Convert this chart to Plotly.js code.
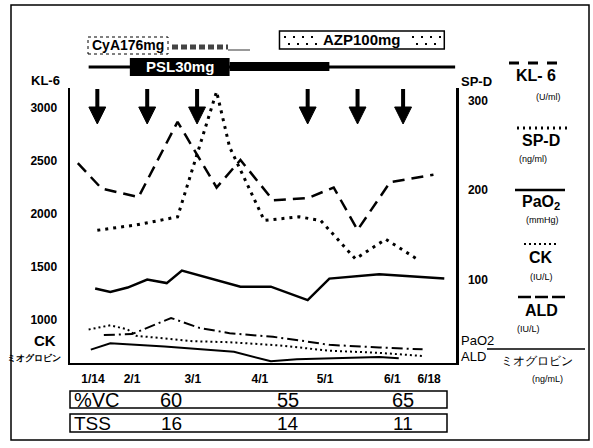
<!DOCTYPE html>
<html><head><meta charset="utf-8">
<script src="https://cdn.plot.ly/plotly-3.0.1.min.js"></script>
<style>html,body{margin:0;padding:0;background:#fff}#chart{width:593px;height:448px}</style>
</head><body><div id="chart"></div>
<script>
// ---- data (x = day of year) ----
const tickDays = [14, 32, 60, 91, 121, 152, 169];
const tickLabels = ['1/14', '2/1', '3/1', '4/1', '5/1', '6/1', '6/18'];

const kl6Days = [7, 18, 35, 53, 71, 82, 97, 113, 125, 136, 151, 171];
const kl6 = [2480, 2240, 2160, 2870, 2250, 2510, 2130, 2150, 2250, 1850, 2300, 2370];

const spdDays = [16, 34, 53, 71, 77, 93, 109, 119, 135, 149, 164];
const spd = [155, 161, 170, 310, 248, 166, 170, 166, 123, 145, 122];

const pao2Days = [15, 22, 30, 39, 48, 55, 82, 96, 113, 123, 146, 176];
const pao2 = [90, 86, 91, 100, 96, 110, 92, 92, 77, 101, 106, 101];

const ckDays = [12, 22, 30, 34, 45, 60, 77, 100, 123, 146, 166];
const ck = [910, 950, 910, 850, 830, 800, 790, 760, 710, 690, 660];

const aldDays = [19, 32, 50, 63, 77, 97, 109, 123, 146, 166];
const ald = [38, 39, 57, 46, 40, 36, 32, 27, 24, 22];

const myoDays = [13, 22, 47, 79, 96, 108, 146, 155];
const myo = [720, 780, 750, 700, 610, 630, 650, 640];

const arrowDays = [16, 39, 62, 113, 136, 157];

const vcDays = [50, 104, 157];
const vcValues = [60, 55, 65];
const tssValues = [16, 14, 11];

const cyaLabel = 'CyA176mg';
const pslLabel = 'PSL30mg';
const azpLabel = 'AZP100mg';
const pslStart = 12, pslHighEnd = 77, pslEnd = 181;
const azpStart = 100, azpEnd = 176;

// ---- layout helpers (pixel -> paper) ----
const L = 70, R = 456, T = 88, B = 363;
const px = x => (x - L) / (R - L);
const py = y => (B - y) / (B - T);
const FONT = 'Liberation Sans, Arial, sans-serif';
const BLK = '#000';

const traces = [
  {x: kl6Days, y: kl6, yaxis: 'y', mode: 'lines', line: {color: BLK, width: 2.5, dash: '12px,7px'}},
  {x: spdDays, y: spd, yaxis: 'y2', mode: 'lines', line: {color: BLK, width: 3, dash: '3px,5px'}},
  {x: pao2Days, y: pao2, yaxis: 'y2', mode: 'lines', line: {color: BLK, width: 2.5}},
  {x: ckDays, y: ck, yaxis: 'y', mode: 'lines', line: {color: BLK, width: 2, dash: '2px,3px'}},
  {x: aldDays, y: ald, yaxis: 'y2', mode: 'lines', line: {color: BLK, width: 2, dash: '11px,4px,2px,4px'}},
  {x: myoDays, y: myo, yaxis: 'y', mode: 'lines', line: {color: BLK, width: 2}}
];

const shapes = [];
const annotations = [];

// outer frame
shapes.push({type: 'rect', xref: 'paper', yref: 'paper', x0: px(11), x1: px(589), y0: py(440), y1: py(5), line: {color: BLK, width: 1.5}});
// table boxes
shapes.push({type: 'rect', xref: 'paper', yref: 'paper', x0: px(70), x1: px(447), y0: py(408), y1: py(391), line: {color: BLK, width: 1.5}});
shapes.push({type: 'rect', xref: 'paper', yref: 'paper', x0: px(70), x1: px(447), y0: py(432), y1: py(414), line: {color: BLK, width: 1.5}});

// drug bars
shapes.push({type: 'line', xref: 'x', yref: 'paper', x0: pslStart, x1: pslEnd, y0: py(67), y1: py(67), line: {color: BLK, width: 3}});
shapes.push({type: 'rect', xref: 'x', yref: 'paper', x0: 31, x1: pslHighEnd, y0: py(76), y1: py(58), fillcolor: BLK, line: {width: 0}});
shapes.push({type: 'rect', xref: 'x', yref: 'paper', x0: pslHighEnd, x1: 123, y0: py(71), y1: py(62), fillcolor: BLK, line: {width: 0}});
shapes.push({type: 'rect', xref: 'x', yref: 'paper', x0: azpStart, x1: azpEnd, y0: py(49), y1: py(31), line: {color: BLK, width: 1.5}});
shapes.push({type: 'line', xref: 'paper', yref: 'paper', x0: px(284), x1: px(318), y0: py(37), y1: py(37), line: {color: BLK, width: 2, dash: '2px,7px'}});
shapes.push({type: 'line', xref: 'paper', yref: 'paper', x0: px(288), x1: px(318), y0: py(44), y1: py(44), line: {color: BLK, width: 2, dash: '2px,7px'}});
shapes.push({type: 'line', xref: 'paper', yref: 'paper', x0: px(412), x1: px(442), y0: py(37), y1: py(37), line: {color: BLK, width: 2, dash: '2px,7px'}});
shapes.push({type: 'line', xref: 'paper', yref: 'paper', x0: px(416), x1: px(442), y0: py(44), y1: py(44), line: {color: BLK, width: 2, dash: '2px,7px'}});
shapes.push({type: 'rect', xref: 'paper', yref: 'paper', x0: px(88), x1: px(168), y0: py(54), y1: py(37), line: {color: BLK, width: 1, dash: 'dot'}});
shapes.push({type: 'line', xref: 'paper', yref: 'paper', x0: px(172), x1: px(228), y0: py(47), y1: py(47), line: {color: '#444', width: 5, dash: '6px,3px'}});
shapes.push({type: 'line', xref: 'paper', yref: 'paper', x0: px(228), x1: px(250), y0: py(50), y1: py(50), line: {color: '#777', width: 1.5}});

// treatment arrows (shaft + head, placed on the x axis scale)
arrowDays.forEach(d => {
  shapes.push({type: 'line', xref: 'x', yref: 'paper', x0: d, x1: d, y0: py(89), y1: py(110), line: {color: BLK, width: 4}});
  shapes.push({type: 'path', xref: 'x', yref: 'paper', path: `M ${d - 3.9} ${py(107)} L ${d + 3.9} ${py(107)} L ${d} ${py(124)} Z`, fillcolor: BLK, line: {color: BLK, width: 1}});
});

const lab = (x, y, t, size, anchor, bold, color) => annotations.push({xref: 'paper', yref: 'paper', x: px(x), y: py(y), text: t, showarrow: false, xanchor: anchor || 'center', yanchor: 'middle', font: {family: FONT, size: size, color: color || BLK, weight: bold ? 'bold' : 'normal'}});

lab(128, 45, cyaLabel, 14, 'center', true);
annotations.push({xref: 'x', yref: 'paper', x: (31 + pslHighEnd) / 2, y: py(67), xanchor: 'center', yanchor: 'middle', text: pslLabel, showarrow: false, font: {family: FONT, size: 15, color: '#fff', weight: 'bold'}});
annotations.push({xref: 'x', yref: 'paper', x: (azpStart + azpEnd) / 2, y: py(40), xanchor: 'center', yanchor: 'middle', text: azpLabel, showarrow: false, font: {family: FONT, size: 15, color: BLK, weight: 'bold'}});

// axis side labels
lab(62, 80, 'KL-6', 13, 'right', true);
lab(459, 81, 'SP-D', 13, 'left', true);
lab(58, 340, 'CK', 15, 'right', true);
lab(63, 358, 'ミオグロビン', 9, 'right', true);
lab(459, 340, 'PaO2', 13, 'left', false);
lab(459, 356, 'ALD', 13, 'left', false);

// legend
const lline = (x0, x1, y, dash, w) => shapes.push({type: 'line', xref: 'paper', yref: 'paper', x0: px(x0), x1: px(x1), y0: py(y), y1: py(y), line: {color: BLK, width: w, dash: dash}});
lline(509, 558, 63, '10px,9px', 3);
lline(517, 567, 128, '2px,4px', 3);
lline(515, 565, 190, 'solid', 2.5);
lline(524, 557, 244, '2px,3px', 2);
lline(518, 567, 297, '13px,4px', 2.5);
lline(487, 585, 349, 'solid', 1.5);
lab(536, 76, 'KL- 6', 16, 'center', true);
lab(548, 97, '(U/ml)', 9, 'center', false);
lab(541, 140, 'SP-D', 16, 'center', true);
lab(533, 159, '(ng/ml)', 9, 'center', false);
lab(541, 202, 'PaO<sub>2</sub>', 16, 'center', true);
lab(542, 220, '(mmHg)', 9, 'center', false);
lab(541, 257, 'CK', 16, 'center', true);
lab(541, 277, '(IU/L)', 9, 'center', false);
lab(541, 310, 'ALD', 16, 'center', true);
lab(528, 329, '(IU/L)', 9, 'center', false);
lab(537, 361, 'ミオグロビン', 12, 'center', false);
lab(547, 379, '(ng/mL)', 9, 'center', false);

// table text
lab(72, 400, '%VC', 20, 'left', false);
lab(72, 423, 'TSS', 19, 'left', false);
vcDays.forEach((d, i) => {
  annotations.push({xref: 'x', yref: 'paper', x: d, y: py(400), xanchor: 'center', yanchor: 'middle', text: String(vcValues[i]), showarrow: false, font: {family: FONT, size: 20, color: BLK}});
  annotations.push({xref: 'x', yref: 'paper', x: d, y: py(423), xanchor: 'center', yanchor: 'middle', text: String(tssValues[i]), showarrow: false, font: {family: FONT, size: 19, color: BLK}});
});

const layout = {
  width: 593, height: 448,
  margin: {l: L, r: 593 - R, t: T, b: 448 - B, pad: 0},
  paper_bgcolor: '#fff', plot_bgcolor: '#fff',
  showlegend: false,
  font: {family: FONT, color: BLK},
  xaxis: {range: [3.4, 181.4], tickvals: tickDays, ticktext: tickLabels, showgrid: false, zeroline: false, showline: true, linecolor: BLK, linewidth: 2, ticks: '', ticklabelstandoff: 4, tickfont: {family: FONT, size: 12, weight: 'bold'}},
  yaxis: {range: [594, 3189], tickvals: [1000, 1500, 2000, 2500, 3000], showgrid: false, zeroline: false, showline: true, linecolor: BLK, linewidth: 2.5, ticks: '', ticklabelstandoff: 8, tickfont: {family: FONT, size: 12, weight: 'bold'}},
  yaxis2: {range: [6.7, 314], overlaying: 'y', side: 'right', tickvals: [100, 200, 300], showgrid: false, zeroline: false, showline: true, linecolor: BLK, linewidth: 2.5, ticks: '', ticklabelstandoff: 7, tickfont: {family: FONT, size: 12, weight: 'bold'}},
  shapes: shapes,
  annotations: annotations
};

Plotly.newPlot('chart', traces, layout, {staticPlot: true, displayModeBar: false});
</script>
</body></html>
